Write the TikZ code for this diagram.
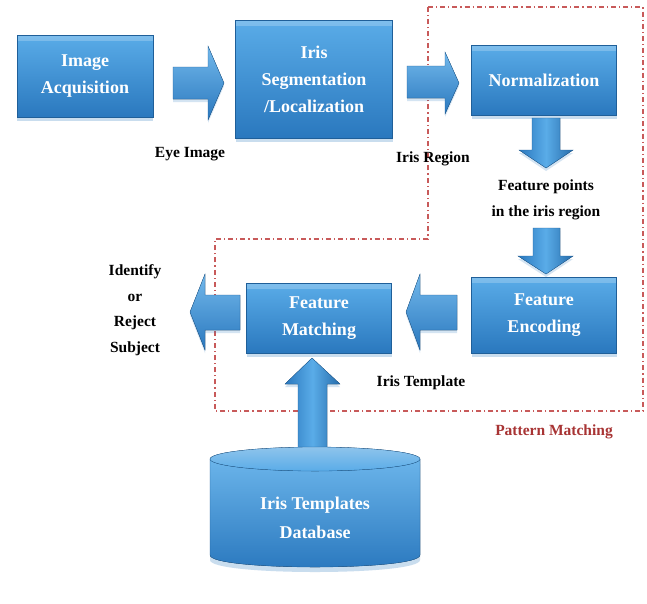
\documentclass[tikz,border=0pt]{standalone}
\usepackage{fontspec}
\setmainfont{Liberation Serif}
\usetikzlibrary{shadows}
\definecolor{boxtop}{HTML}{5AACE8}
\definecolor{boxbot}{HTML}{2A78BE}
\definecolor{boxedge}{HTML}{1F5F99}
\definecolor{dbtop}{HTML}{8EC4EC}
\definecolor{pmred}{HTML}{A83434}
\definecolor{dashred}{HTML}{C85A5A}
\begin{document}
\begin{tikzpicture}[x=1pt,y=-1pt,
  procbox/.style={rectangle, top color=boxtop, bottom color=boxbot, draw=boxedge, line width=0.3pt,
    text=white, font=\bfseries\fontsize{18}{27}\selectfont, align=center, inner sep=0pt,
    drop shadow={shadow xshift=0pt, shadow yshift=-4pt, opacity=0.25, fill=boxbot},
    path picture={\fill[white,opacity=0.22] (path picture bounding box.north west) rectangle ([yshift=-6pt]path picture bounding box.north east);}},
  lbl/.style={font=\bfseries\fontsize{15.5}{25.5}\selectfont, align=center, text=black},
  harrow/.style={top color=boxtop!85!white, bottom color=boxbot, draw=boxedge, line width=0.3pt,
    drop shadow={shadow xshift=0pt, shadow yshift=-3pt, opacity=0.2, fill=boxbot}},
  varrow/.style={left color=boxbot, right color=boxbot!90!black, middle color=boxtop, draw=boxedge, line width=0.3pt,
    drop shadow={shadow xshift=0pt, shadow yshift=-3pt, opacity=0.2, fill=boxbot}},
  region/.style={draw=dashred, line width=1.1pt, dash pattern=on 5pt off 3pt on 1.2pt off 3pt}
]
\fill[white] (0,0) rectangle (647,603);
\useasboundingbox (0,0) rectangle (647,603);

% pattern matching region
\draw[region] (428,7) -- (643,7) -- (643,411) -- (215,411) -- (215,239) -- (428,239) -- cycle;

% boxes
\node[procbox, minimum width=136pt, minimum height=82pt] (acq) at (85,76) {Image\\Acquisition};
\node[procbox, minimum width=157pt, minimum height=118pt] (seg) at (314,79) {Iris\\Segmentation\\/Localization};
\node[procbox, minimum width=145pt, minimum height=70pt] (norm) at (544,80) {Normalization};
\node[procbox, minimum width=145pt, minimum height=76pt] (enc) at (544,315) {Feature\\Encoding};
\node[procbox, minimum width=145pt, minimum height=70pt] (match) at (319,318) {Feature\\Matching};

% block arrows
\fill[harrow] (173,67) -- (208,67) -- (208,46) -- (224,83) -- (208,120) -- (208,99) -- (173,99) -- cycle;
\fill[harrow] (407,66) -- (445,66) -- (445,52) -- (459,83) -- (445,114) -- (445,98) -- (407,98) -- cycle;
\fill[varrow] (532,118) -- (532,150) -- (519,150) -- (546,168) -- (573,150) -- (560,150) -- (560,118) -- cycle;
\fill[varrow] (533,228) -- (533,256) -- (518,256) -- (546,274) -- (573,256) -- (560,256) -- (560,228) -- cycle;
\fill[harrow] (457,295) -- (420,295) -- (420,274) -- (406,312) -- (420,350) -- (420,330) -- (457,330) -- cycle;
\fill[harrow] (240,295) -- (205,295) -- (205,274) -- (190,312) -- (205,350) -- (205,330) -- (240,330) -- cycle;
\fill[varrow] (298,452) -- (298,384) -- (285,384) -- (312,358) -- (340,384) -- (327,384) -- (327,452) -- cycle;

% database cylinder
\fill[top color=boxtop!90!white, bottom color=boxbot, draw=boxedge, line width=0.3pt,
  drop shadow={shadow xshift=0pt, shadow yshift=-5pt, opacity=0.25, fill=boxbot}]
  (210,459) -- (210,555) .. controls (210,571) and (420,571) .. (420,555) -- (420,459) -- cycle;
\fill[top color=dbtop, bottom color=boxtop, draw=boxedge, line width=0.3pt] (315,459) ellipse [x radius=105, y radius=12];
\node[text=white, font=\bfseries\fontsize{18}{29}\selectfont, align=center] (db) at (315,518) {Iris Templates\\Database};

% labels
\node[lbl] (eye) at (190,154) {Eye Image};
\node[lbl] (irisreg) at (433,159) {Iris Region};
\node[lbl] (fp) at (546,200) {Feature points\\in the iris region};
\node[lbl] (tmpl) at (421,383) {Iris Template};
\node[lbl] (out) at (135,310) {Identify\\or\\Reject\\Subject};
\node[font=\bfseries\fontsize{15.5}{18}\selectfont, text=pmred] (pm) at (554,432) {Pattern Matching};
\end{tikzpicture}
\end{document}
